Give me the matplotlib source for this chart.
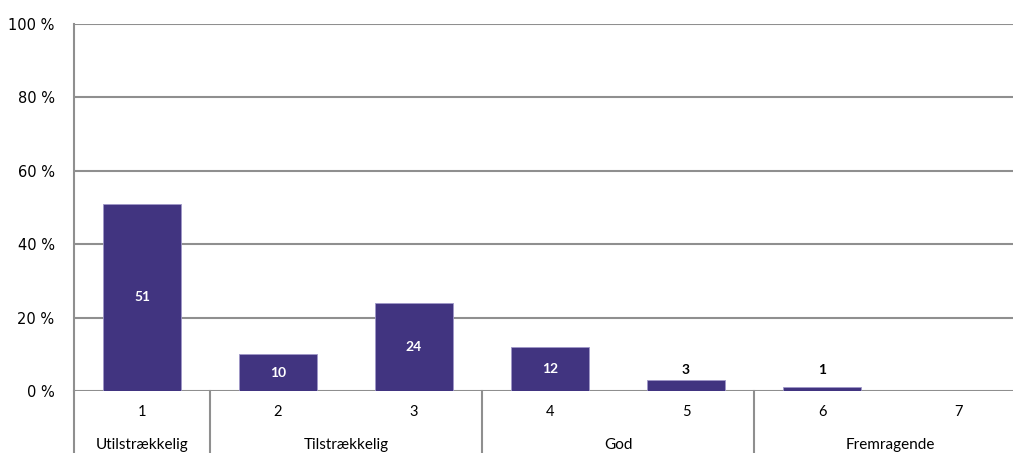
import matplotlib
matplotlib.use("Agg")
import matplotlib.pyplot as plt
import numpy as np

categories = ['1', '2', '3', '4', '5', '6', '7']
values = [51, 10, 24, 12, 3, 1, 0]
groups = ['Utilstrækkelig', 'Tilstrækkelig', 'God', 'Fremragende']
group_spans = [(1, 1), (2, 3), (4, 5), (6, 7)]
yticks = [0, 20, 40, 60, 80, 100]

bar_color = '#413480'
grid_color = '#8f8f8f'
txt_font = ['Lato', 'DejaVu Sans']

fig = plt.figure(figsize=(10.13, 4.53), dpi=100)
W, H = 1013, 453
ax = fig.add_axes([74 / W, 62 / H, (W - 74) / W, 367 / H])

x = np.arange(1, len(categories) + 1)
ax.bar(x, values, width=0.57, color=bar_color, edgecolor='#9f97c8', linewidth=0.6, zorder=3)

ax.set_ylim(0, 100)
ax.set_xlim(0.5, 0.5 + (W - 74) / 136)
ax.set_yticks(yticks)
ax.set_yticklabels([f'{t} %' for t in yticks], fontsize=10.5, family='DejaVu Sans')
ax.tick_params(axis='y', length=0, pad=14)
ax.set_xticks([])
for t in yticks:
    ax.axhline(t, color=grid_color, lw=1.5, zorder=1)
for s in ['top', 'right', 'bottom']:
    ax.spines[s].set_visible(False)
ax.spines['left'].set_color(grid_color)
ax.spines['left'].set_linewidth(1.5)

for xi, v in zip(x, values):
    if v == 0:
        continue
    if v >= 8:
        ax.text(xi, v / 2, str(v), ha='center', va='center', color='white',
                fontsize=10, fontweight='bold', family=txt_font, zorder=4)
    else:
        ax.text(xi, 5.7, str(v), ha='center', va='center', color='black',
                fontsize=10, fontweight='bold', family=txt_font, zorder=4)

# category axis below
for xi, c in zip(x, categories):
    ax.text(xi, -5.7, c, ha='center', va='center', fontsize=10.5, family=txt_font,
            transform=ax.transData, clip_on=False)
for g, (a, b) in zip(groups, group_spans):
    ax.text((a + b) / 2, -14.8, g, ha='center', va='center', fontsize=11, family=txt_font,
            clip_on=False)
# left axis extension and group separators
ax.plot([0.5, 0.5], [0, -17], color=grid_color, lw=1.5, clip_on=False)
for a, b in group_spans[:-1]:
    ax.plot([b + 0.5, b + 0.5], [0, -17], color=grid_color, lw=1.5, clip_on=False)

fig.savefig('out.png', dpi=100)
